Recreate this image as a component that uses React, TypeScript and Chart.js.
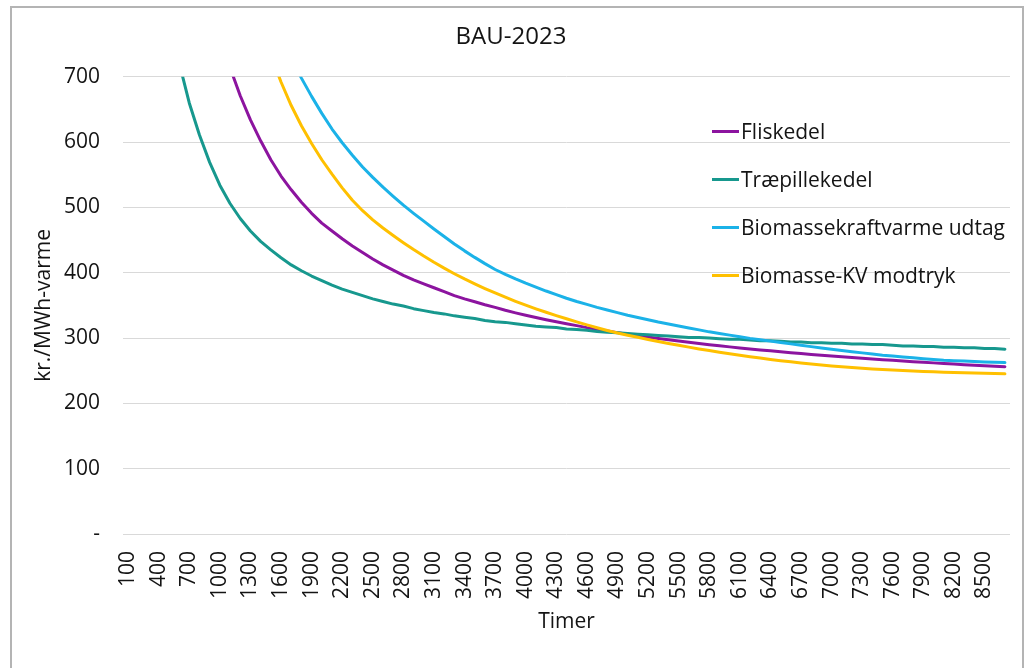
import React, { useEffect, useRef } from 'react';
import { Chart, registerables } from 'chart.js';

Chart.register(...registerables);

// Categories: full-load hours (Timer)
const HOURS = [
  100, 200, 300, 400, 500, 600, 700, 800, 900, 1000,
  1100, 1200, 1300, 1400, 1500, 1600, 1700, 1800, 1900, 2000,
  2100, 2200, 2300, 2400, 2500, 2600, 2700, 2800, 2900, 3000,
  3100, 3200, 3300, 3400, 3500, 3600, 3700, 3800, 3900, 4000,
  4100, 4200, 4300, 4400, 4500, 4600, 4700, 4800, 4900, 5000,
  5100, 5200, 5300, 5400, 5500, 5600, 5700, 5800, 5900, 6000,
  6100, 6200, 6300, 6400, 6500, 6600, 6700, 6800, 6900, 7000,
  7100, 7200, 7300, 7400, 7500, 7600, 7700, 7800, 7900, 8000,
  8100, 8200, 8300, 8400, 8500, 8600, 8700,
];

// Category labels that are shown on the x axis
const TICK_LABELS = [
  '100', '400', '700', '1000', '1300', '1600', '1900', '2200', '2500', '2800',
  '3100', '3400', '3700', '4000', '4300', '4600', '4900', '5200', '5500', '5800',
  '6100', '6400', '6700', '7000', '7300', '7600', '7900', '8200', '8500',
];

const Y_TICKS = [0, 100, 200, 300, 400, 500, 600, 700];

const SERIES_NAMES = ['Fliskedel', 'Træpillekedel', 'Biomassekraftvarme udtag', 'Biomasse-KV modtryk'];

const FLISKEDEL = [
  2820, 1920, 1520, 1290, 1140, 1030, 945, 875, 815, 762,
  714, 671, 634, 602, 573, 548, 527, 508, 491, 476,
  464, 452, 441, 431, 421, 412, 404, 396, 389, 383,
  377, 371, 365, 360, 355.5, 351, 347, 342.5, 338.6, 335,
  331.4, 328.1, 325, 322, 319, 316, 313.4, 310.8, 308.3, 306,
  303.7, 301.5, 299.4, 297.3, 295.4, 293.5, 291.6, 289.9, 288.2, 286.5,
  284.9, 283.3, 281.8, 280.4, 279, 277.6, 276.3, 275, 273.7, 272.5,
  271.3, 270.2, 269.1, 268, 266.9, 265.9, 264.9, 263.9, 262.9, 262,
  261.1, 260.2, 259.3, 258.5, 257.6, 256.8, 256,
];

const TRAEPILLEKEDEL = [
  2700, 1500, 1100, 930, 810, 722, 660, 611, 569, 534,
  506, 483, 464, 448, 435, 423, 412, 403, 395, 388,
  381, 375, 370, 365, 360, 356, 352, 349, 345, 342,
  339, 337, 334, 332, 330, 327, 325, 324, 322, 320,
  318, 317, 316, 314, 313, 312, 310, 309, 308, 307,
  306, 305, 304, 303, 302, 301, 301, 300, 299, 298,
  298, 297, 296, 296, 295, 294, 294, 293, 293, 292,
  292, 291, 291, 290, 290, 289, 288, 288, 287, 287,
  286, 286, 285, 285, 284, 284, 283,
];

const BIOMASSE_UDTAG = [
  8000, 4200, 2900, 2250, 1850, 1600, 1420, 1280, 1170, 1080,
  1005, 940, 885, 836, 800, 762, 728, 698, 670, 644,
  620, 599, 580, 562, 546, 531, 517, 503.5, 491, 479,
  467, 455.5, 444, 433.5, 423.5, 414, 405, 397.5, 390.5, 384,
  378, 372, 366.5, 361, 356, 351.5, 347, 343, 339, 335,
  331.5, 328, 324.5, 321.5, 318.5, 315.5, 312.5, 309.5, 307, 304.5,
  302, 299.5, 297.4, 295.3, 293.2, 291.1, 289, 286.9, 284.8, 282.7,
  280.9, 279.1, 277.3, 275.5, 273.7, 272.4, 271.1, 269.8, 268.5, 267.2,
  265.9, 265.3, 264.7, 264.1, 263.5, 262.9, 262.4,
];

const BIOMASSE_MODTRYK = [
  7500, 3900, 2700, 2100, 1750, 1500, 1320, 1180, 1070, 985,
  915, 860, 812, 770, 733, 692, 656, 625, 598, 573,
  551, 530, 511, 495, 481, 468.5, 457, 446, 435.5, 425.5,
  416, 407, 398.5, 390.5, 383, 375.8, 369, 362.5, 356.3, 350.4,
  344.8, 339.5, 334.4, 329.5, 324.8, 320.2, 315.7, 311.5, 307.8, 304.4,
  301.1, 297.9, 294.8, 291.8, 288.9, 286.1, 283.4, 280.8, 278.3, 275.9,
  273.6, 271.4, 269.3, 267.3, 265.4, 263.6, 261.9, 260.3, 258.8, 257.4,
  256.1, 254.9, 253.8, 252.8, 251.9, 251.1, 250.3, 249.6, 248.9, 248.3,
  247.8, 247.3, 246.8, 246.4, 246, 245.6, 245.2,
];

const SERIES_VALUES = [FLISKEDEL, TRAEPILLEKEDEL, BIOMASSE_UDTAG, BIOMASSE_MODTRYK];
const COLORS = ['#8C149F', '#17988E', '#1BB2E8', '#FFC000'];
const TEXT_COLOR = '#141414';
const FONT_FAMILY = "'Open Sans', sans-serif";

const insideLegend = {
  id: 'insideLegend',
  afterDraw(chart: any) {
    const ctx = chart.ctx as CanvasRenderingContext2D;
    ctx.save();
    ctx.font = `21px ${FONT_FAMILY}`;
    ctx.textAlign = 'left';
    ctx.textBaseline = 'middle';
    SERIES_NAMES.forEach((name, i) => {
      const y = 131.5 + i * 48;
      ctx.strokeStyle = COLORS[i];
      ctx.lineWidth = 3;
      ctx.beginPath();
      ctx.moveTo(712, y);
      ctx.lineTo(739, y);
      ctx.stroke();
      ctx.fillStyle = TEXT_COLOR;
      ctx.fillText(name, 741, y + 1.5);
    });
    ctx.restore();
  },
};

export default function App() {
  const canvasRef = useRef<HTMLCanvasElement | null>(null);

  useEffect(() => {
    if (!canvasRef.current) return;
    Chart.defaults.font.family = FONT_FAMILY;
    const chart = new Chart(canvasRef.current, {
      type: 'line',
      data: {
        labels: HOURS.map(String),
        datasets: SERIES_NAMES.map((name, i) => ({
          label: name,
          data: SERIES_VALUES[i],
          borderColor: COLORS[i],
          backgroundColor: COLORS[i],
          borderWidth: 3,
          pointRadius: 0,
          pointHoverRadius: 0,
          tension: 0,
          fill: false,
          borderJoinStyle: 'round' as const,
          borderCapStyle: 'round' as const,
          order: 3 - i,
        })),
      },
      options: {
        responsive: false,
        animation: false,
        devicePixelRatio: 1,
        layout: { padding: { left: 12, right: 19, top: 0, bottom: 0 } },
        plugins: {
          legend: { display: false },
          tooltip: { enabled: false },
          title: {
            display: true,
            text: 'BAU-2023',
            color: TEXT_COLOR,
            font: { size: 24, weight: 'normal', family: FONT_FAMILY },
            padding: { top: 23, bottom: 25 },
          },
        },
        scales: {
          x: {
            type: 'category',
            offset: true,
            grid: { display: false, drawTicks: false },
            border: { display: false },
            ticks: {
              autoSkip: false,
              minRotation: 90,
              maxRotation: 90,
              padding: 17,
              color: TEXT_COLOR,
              font: { size: 21, family: FONT_FAMILY },
              callback: (_v: any, index: number) => {
                const s = String(HOURS[index]);
                return TICK_LABELS.includes(s) ? s : '';
              },
            },
            title: {
              display: true,
              text: 'Timer',
              color: TEXT_COLOR,
              font: { size: 21, family: FONT_FAMILY },
              padding: { top: 0, bottom: 33 },
            },
            afterFit: (s: any) => {
              s.height = 134;
              s.paddingLeft = 0;
              s.paddingRight = 0;
            },
          },
          y: {
            min: Y_TICKS[0],
            max: Y_TICKS[Y_TICKS.length - 1],
            grid: { color: '#d9d9d9', lineWidth: 1, drawTicks: false },
            border: { display: false },
            afterBuildTicks: (s: any) => {
              s.ticks = Y_TICKS.map((v) => ({ value: v }));
            },
            ticks: {
              padding: 23,
              color: TEXT_COLOR,
              font: { size: 21, family: FONT_FAMILY },
              callback: (v: any) => (Number(v) === 0 ? '-' : String(v)),
            },
            title: {
              display: true,
              text: 'kr./MWh-varme',
              color: TEXT_COLOR,
              font: { size: 21, family: FONT_FAMILY },
              padding: { top: 19, bottom: 0 },
            },
            afterFit: (s: any) => {
              s.width = 111;
            },
          },
        },
      },
      plugins: [insideLegend],
    });
    return () => chart.destroy();
  }, []);

  return (
    <div
      style={{
        position: 'absolute',
        left: 0,
        top: 0,
        width: 1029,
        height: 668,
        overflow: 'hidden',
        background: '#ffffff',
      }}
    >
      <div
        style={{
          position: 'absolute',
          left: 10,
          top: 6,
          width: 1014,
          height: 700,
          border: '2px solid #b4b4b4',
          boxSizing: 'border-box',
        }}
      />
      <canvas
        ref={canvasRef}
        width={1029}
        height={668}
        style={{ position: 'absolute', left: 0, top: 0 }}
      />
    </div>
  );
}
